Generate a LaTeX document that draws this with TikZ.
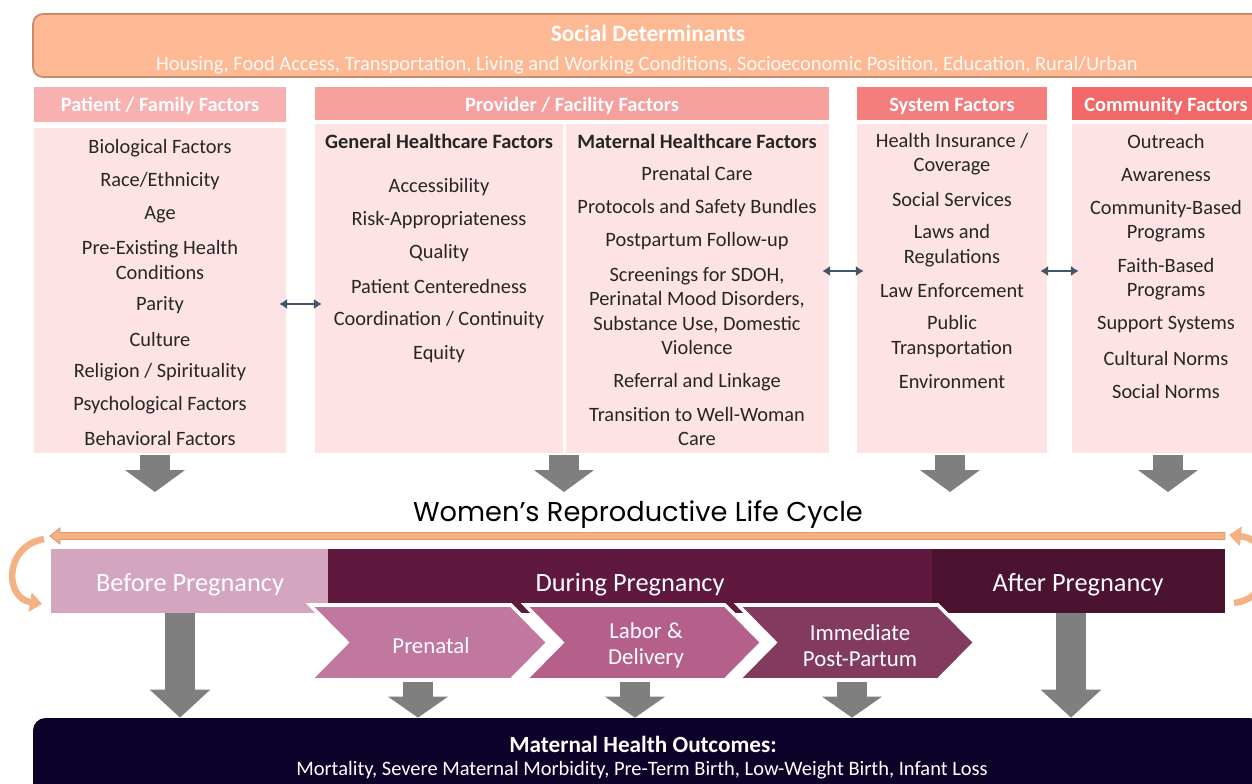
\documentclass[tikz,border=0pt]{standalone}
\usepackage{fontspec}
\setmainfont{Carlito}
\newfontfamily\cyclefont{Poppins}
\usetikzlibrary{arrows.meta,calc,fit,positioning}

\definecolor{sdfill}{HTML}{FDB994}
\definecolor{sdline}{HTML}{C98A6E}
\definecolor{pfhead}{HTML}{F8B0B0}
\definecolor{prhead}{HTML}{F6A09E}
\definecolor{syhead}{HTML}{F47E7E}
\definecolor{cohead}{HTML}{F26868}
\definecolor{bodypink}{HTML}{FDE3E4}
\definecolor{slate}{HTML}{44546A}
\definecolor{arrgray}{HTML}{7F7F7F}
\definecolor{beforecol}{HTML}{D4A5BF}
\definecolor{duringcol}{HTML}{5F183E}
\definecolor{aftercol}{HTML}{4B1330}
\definecolor{prenatcol}{HTML}{C1789E}
\definecolor{laborcol}{HTML}{B5608B}
\definecolor{immedcol}{HTML}{833A5F}
\definecolor{outcol}{HTML}{0C0229}
\definecolor{orfill}{HTML}{F4B183}
\definecolor{oredge}{HTML}{DE9772}

\tikzset{
headbox/.style={
  inner sep=0pt,
  }
}
\tikzset{
headtext/.style={
  inner sep=0pt,
  text=white,
  yshift=-0.04cm,
  font=\bfseries\fontsize{11.6}{13}\selectfont,
  }
}
\tikzset{
bodybox/.style={
  fill=bodypink,
  inner sep=0pt,
  }
}
\tikzset{
item/.style={
  inner sep=0pt,
  align=center,
  text=black!85,
  yshift=-0.04cm,
  font=\fontsize{11.6}{14}\selectfont,
  }
}
\tikzset{
dblarrow/.style={
  draw=slate,
  line width=1.3pt,
  {Latex[length=4.5pt,width=6pt]}-{Latex[length=4.5pt,width=6pt]},
  shorten <=-4pt, shorten >=-4pt
  }
}
\tikzset{
grayarrow/.style={
  draw=arrgray,
  line width=0.6cm,
  -{Triangle[width=1.18cm,length=#1]}
  },
grayarrow/.default=0.44cm
}
\tikzset{
phase/.style={
  inner sep=0pt,
  text=white,
  align=center,
  yshift=-0.05cm,
  font=\fontsize{15}{17}\selectfont,
  }
}
\tikzset{
chevron/.style={
  draw=white,
  line width=2pt,
  line join=miter,
  }
}
\tikzset{
cyclearc/.style={
  draw=orfill,
  line width=0.13cm,
  -{Triangle[width=0.38cm,length=0.24cm]}
  }
}

\begin{document}
\begin{tikzpicture}[x=0.02cm, y=-0.02cm]
    \useasboundingbox (0,0) rectangle (1252,784);

    % social determinants
    \node[fit={(33,14) (1262,77)}, inner sep=0pt, fill=sdfill, draw=sdline, line width=1pt, rounded corners=0.2cm] (sdbox) {};
    \node[text=white, font=\bfseries\fontsize{13.3}{15}\selectfont] (sdtitle) at (648,33) {Social Determinants};
    \node[text=white!92!sdfill, font=\fontsize{11.65}{13}\selectfont] (sdsub) at (647,65) {Housing, Food Access, Transportation, Living and Working Conditions, Socioeconomic Position, Education, Rural/Urban};

    % factor headers
    \node[headbox, fill=pfhead, fit={(34,87) (286,122)}] (pfhd) {};
    \node[headbox, fill=prhead, fit={(315,87) (829,120)}] (prhd) {};
    \node[headbox, fill=syhead, fit={(857,87) (1047,120)}] (syhd) {};
    \node[headbox, fill=cohead, fit={(1072,87) (1262,120)}] (cohd) {};
    \node[headtext] (pftxt) at (160,104) {Patient / Family Factors};
    \node[headtext] (prtxt) at (572,104) {Provider / Facility Factors};
    \node[headtext] (sytxt) at (952,104) {System Factors};
    \node[headtext] (cotxt) at (1166,104) {Community Factors};

    % factor bodies
    \node[bodybox, fit={(34,128) (286,453)}] (pfbody) {};
    \node[bodybox, fit={(315,124) (563,453)}] (genbody) {};
    \node[bodybox, fit={(566,124) (829,453)}] (matbody) {};
    \node[bodybox, fit={(857,124) (1047,453)}] (sybody) {};
    \node[bodybox, fit={(1072,124) (1262,453)}] (cobody) {};

    % patient / family items
    \foreach \y/\t [count=\i] in {146/{Biological Factors}, 179/{Race/Ethnicity}, 213/{Age},
        258/{Pre-Existing Health\\Conditions}, 303/{Parity}, 337/{Culture},
        370/{Religion / Spirituality}, 403/{Psychological Factors}, 436/{Behavioral Factors}}
      \node[item] (pf\i) at (160,\y) {\t};

    % provider items
    \node[item, font=\bfseries\fontsize{11.6}{14}\selectfont] (genhd) at (439,139) {General Healthcare Factors};
    \foreach \y/\t [count=\i] in {185/{Accessibility}, 218/{Risk-Appropriateness}, 251/{Quality},
        285/{Patient Centeredness}, 318/{Coordination / Continuity}, 352/{Equity}}
      \node[item] (gen\i) at (439,\y) {\t};
    \node[item, font=\bfseries\fontsize{11.6}{14}\selectfont] (mathd) at (697,139) {Maternal Healthcare Factors};
    \foreach \y/\t [count=\i] in {172/{Prenatal Care}, 206/{Protocols and Safety Bundles},
        239/{Postpartum Follow-up},
        309/{Screenings for SDOH,\\Perinatal Mood Disorders,\\Substance Use, Domestic\\Violence},
        380/{Referral and Linkage}, 424.5/{Transition to Well-Woman\\Care}}
      \node[item] (mat\i) at (697,\y) {\t};

    % system items
    \foreach \y/\t [count=\i] in {152/{Health Insurance /\\Coverage}, 198/{Social Services},
        243.5/{Laws and\\Regulations}, 289/{Law Enforcement},
        334.5/{Public\\Transportation}, 380/{Environment}}
      \node[item] (sy\i) at (952,\y) {\t};

    % community items
    \foreach \y/\t [count=\i] in {140/{Outreach}, 173/{Awareness}, 219/{Community-Based\\Programs},
        277/{Faith-Based\\Programs}, 323/{Support Systems}, 356/{Cultural Norms}, 389/{Social Norms}}
      \node[item] (co\i) at (1166,\y) {\t};

    % links between factor groups
    \draw[dblarrow] (pfbody.east |- 0,304) -- (genbody.west |- 0,304);
    \draw[dblarrow] (matbody.east |- 0,271) -- (sybody.west |- 0,271);
    \draw[dblarrow] (sybody.east |- 0,271) -- (cobody.west |- 0,271);

    % factors into the life cycle
    \draw[grayarrow] (155,455) -- (155,492);
    \draw[grayarrow] (564,455) -- (564,492);
    \draw[grayarrow] (950,455) -- (950,492);
    \draw[grayarrow] (1168,455) -- (1168,492);

    % life cycle
    \node[font=\cyclefont\fontsize{15.5}{17}\selectfont] (lifecycle) at (638,515) {Women’s Reproductive Life Cycle};
    \coordinate (cycr) at (1225,536);
    \coordinate (cycl) at (50,536);
    \draw[draw=oredge, line width=0.5pt, fill=orfill]
      (cycr) ++(0,-3.5) -- (60,532.5) -- (60,528) -- (cycl) -- (60,544) -- (60,539.5) -- ($(cycr)+(0,3.5)$) -- cycle;
    \draw[cyclearc] (44,539) .. controls (4,546) and (4,598) .. (42,604);
    \draw[cyclearc] (1234,603) .. controls (1276,598) and (1276,540) .. (1229,535);

    \node[headbox, fill=beforecol, fit={(51,549) (328,613)}] (before) {};
    \node[headbox, fill=duringcol, fit={(328,549) (932,613)}] (during) {};
    \node[headbox, fill=aftercol, fit={(932,549) (1225,613)}] (after) {};
    \node[phase] (beforetxt) at (190,582) {Before Pregnancy};
    \node[phase] (duringtxt) at (630,582) {During Pregnancy};
    \node[phase] (aftertxt) at (1078,582) {After Pregnancy};

    % stages of pregnancy
    \foreach \a/\b/\c in {310/548/prenatcol, 525/762/laborcol, 738/975/immedcol}
      \draw[chevron, fill=\c] (\a,605) -- (\b-37,605) -- (\b,642.5) -- (\b-37,680) -- (\a,680) -- (\a+37,642.5) -- cycle;
    \node[phase, font=\fontsize{13}{15}\selectfont] (prenatal) at (431,643) {Prenatal};
    \node[phase, font=\fontsize{13}{15}\selectfont] (labor) at (646,643) {Labor \&\\Delivery};
    \node[phase, font=\fontsize{13}{15}\selectfont] (immed) at (860,643) {Immediate\\Post-Partum};

    % outcomes
    \node[fit={(33,718) (1262,800)}, inner sep=0pt, fill=outcol, rounded corners=0.25cm] (outbox) {};
    \node[text=white, font=\bfseries\fontsize{13.2}{15}\selectfont] (outtitle) at (643,744) {Maternal Health Outcomes:};
    \node[text=white, font=\fontsize{11.65}{13}\selectfont] (outsub) at (642,770) {Mortality, Severe Maternal Morbidity, Pre-Term Birth, Low-Weight Birth, Infant Loss};

    % life cycle into outcomes
    \draw[grayarrow=0.56cm] (before.south -| 180,0) -- (outbox.north -| 180,0);
    \draw[grayarrow=0.42cm] (418,682) -- (outbox.north -| 418,0);
    \draw[grayarrow=0.42cm] (635,682) -- (outbox.north -| 635,0);
    \draw[grayarrow=0.42cm] (852,682) -- (outbox.north -| 852,0);
    \draw[grayarrow=0.56cm] (after.south -| 1071,0) -- (outbox.north -| 1071,0);
\end{tikzpicture}
\end{document}
